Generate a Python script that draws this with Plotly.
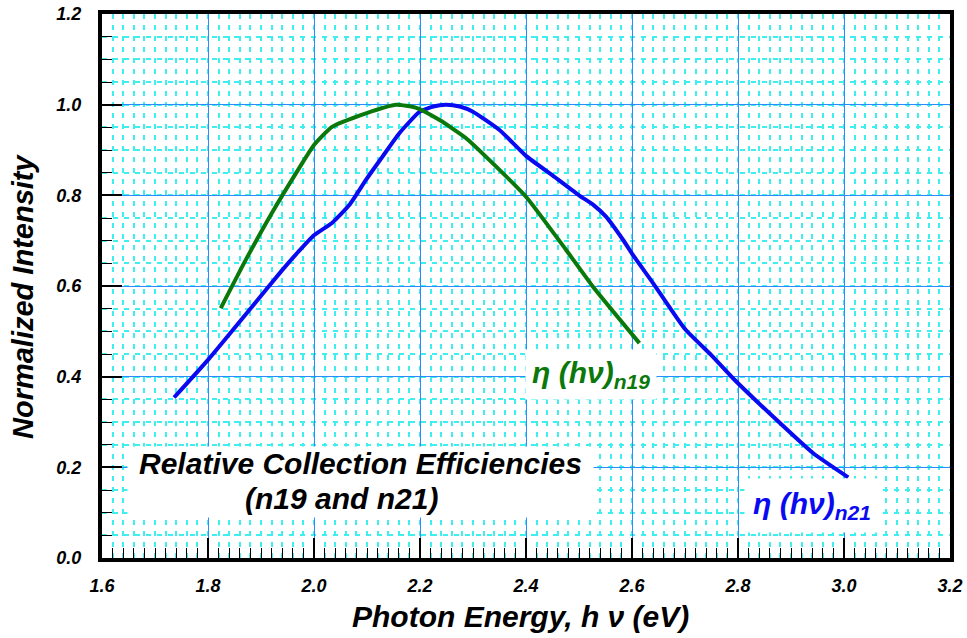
import plotly.graph_objects as go

# Relative collection efficiency curves (normalized), photon energy in eV
n21_energy = [1.736, 1.80, 1.88, 1.94, 1.97, 2.00, 2.034, 2.067, 2.098, 2.129,
              2.161, 2.199, 2.225, 2.249, 2.275, 2.299, 2.35, 2.40, 2.45, 2.50,
              2.527, 2.551, 2.583, 2.602, 2.64, 2.70, 2.75, 2.791, 2.866,
              2.942, 3.008]
n21_intensity = [0.354, 0.437, 0.55, 0.635, 0.675, 0.712, 0.739, 0.779, 0.834,
                 0.885, 0.937, 0.984, 0.996, 1.0, 0.996, 0.985, 0.944, 0.887,
                 0.844, 0.80, 0.779, 0.753, 0.702, 0.668, 0.606, 0.505, 0.447,
                 0.396, 0.312, 0.231, 0.178]

n19_energy = [1.824, 1.871, 1.92, 1.972, 2.0, 2.034, 2.098, 2.155, 2.193,
              2.237, 2.287, 2.337, 2.40, 2.476, 2.526, 2.614]
n19_intensity = [0.551, 0.657, 0.76, 0.86, 0.911, 0.951, 0.981, 1.0, 0.993,
                 0.966, 0.926, 0.871, 0.797, 0.679, 0.599, 0.474]

x_ticks = [1.6, 1.8, 2.0, 2.2, 2.4, 2.6, 2.8, 3.0, 3.2]
y_ticks = [0.0, 0.2, 0.4, 0.6, 0.8, 1.0, 1.2]

FONT = "Arial, Liberation Sans, sans-serif"
BLUE = "#0A0AF0"
GREEN = "#0B780B"
MAJOR_GRID = "#2A8CFF"
MINOR_GRID = "#3FEFEF"

fig = go.Figure()
fig.add_trace(go.Scatter(x=n21_energy, y=n21_intensity, mode="lines",
                         line=dict(color=BLUE, width=4, shape="spline", smoothing=0.5),
                         showlegend=False))
fig.add_trace(go.Scatter(x=n19_energy, y=n19_intensity, mode="lines",
                         line=dict(color=GREEN, width=4, shape="spline", smoothing=0.5),
                         showlegend=False))

axis_common = dict(
    showline=True, linecolor="black", linewidth=4, mirror=True,
    ticks="inside", tickcolor="black", tickwidth=1.5, ticklen=20,
    showgrid=True, gridcolor=MAJOR_GRID, gridwidth=1.2,
    zeroline=False, automargin=False,
    tickfont=dict(family=FONT, size=18, color="black", weight="bold", style="italic"),
    tickformat=".1f",
)

fig.update_xaxes(**axis_common, range=[1.6, 3.2], tickvals=x_ticks,
                 ticklabelstandoff=8,
                 minor=dict(dtick=0.02, ticks="inside", ticklen=10, tickcolor="black",
                            tickwidth=1.2, showgrid=True, gridcolor=MINOR_GRID,
                            gridwidth=1.5, griddash="5px,6px"))
fig.update_yaxes(**axis_common, range=[0, 1.2], tickvals=y_ticks,
                 ticklabelstandoff=13,
                 minor=dict(dtick=0.05, ticks="inside", ticklen=10, tickcolor="black",
                            tickwidth=1.2, showgrid=True, gridcolor=MINOR_GRID,
                            gridwidth=1.5, griddash="5px,6px"))

title_font = dict(family=FONT, size=30, color="black", weight="bold", style="italic")
annotations = [
    # axis titles
    dict(text="Photon Energy, h \u03bd (eV)", xref="paper", yref="paper",
         x=0.494, y=-0.108, xanchor="center", yanchor="middle",
         showarrow=False, font=title_font),
    dict(text="Normalized Intensity", xref="paper", yref="paper",
         x=-0.093, y=0.48, xanchor="center", yanchor="middle", textangle=-90,
         showarrow=False, font=dict(family=FONT, size=29, color="black",
                                    weight="bold", style="italic")),
    # caption box
    dict(text="Relative Collection Efficiencies", xref="x", yref="y",
         x=2.087, y=0.168, xanchor="center", yanchor="middle",
         width=465, height=70, valign="top", bgcolor="white", borderpad=0,
         showarrow=False, font=title_font),
    dict(text="(n19 and n21)", xref="x", yref="y",
         x=2.051, y=0.131, xanchor="center", yanchor="middle",
         showarrow=False, font=title_font),
    # curve labels
    dict(text="\u03b7 (h\u03bd)<sub>n19</sub>", xref="x", yref="y",
         x=2.523, y=0.405, xanchor="center", yanchor="middle",
         bgcolor="white", borderpad=6, showarrow=False,
         font=dict(family=FONT, size=30, color=GREEN, weight="bold", style="italic")),
    dict(text="\u03b7 (h\u03bd)<sub>n21</sub>", xref="x", yref="y",
         x=2.94, y=0.115, xanchor="center", yanchor="middle",
         bgcolor="white", borderpad=8, showarrow=False,
         font=dict(family=FONT, size=30, color=BLUE, weight="bold", style="italic")),
]

fig.update_layout(
    width=967, height=638,
    margin=dict(l=102, r=17, t=14, b=80),
    paper_bgcolor="white", plot_bgcolor="white",
    annotations=annotations,
    showlegend=False,
)

fig.write_html("out.html")
